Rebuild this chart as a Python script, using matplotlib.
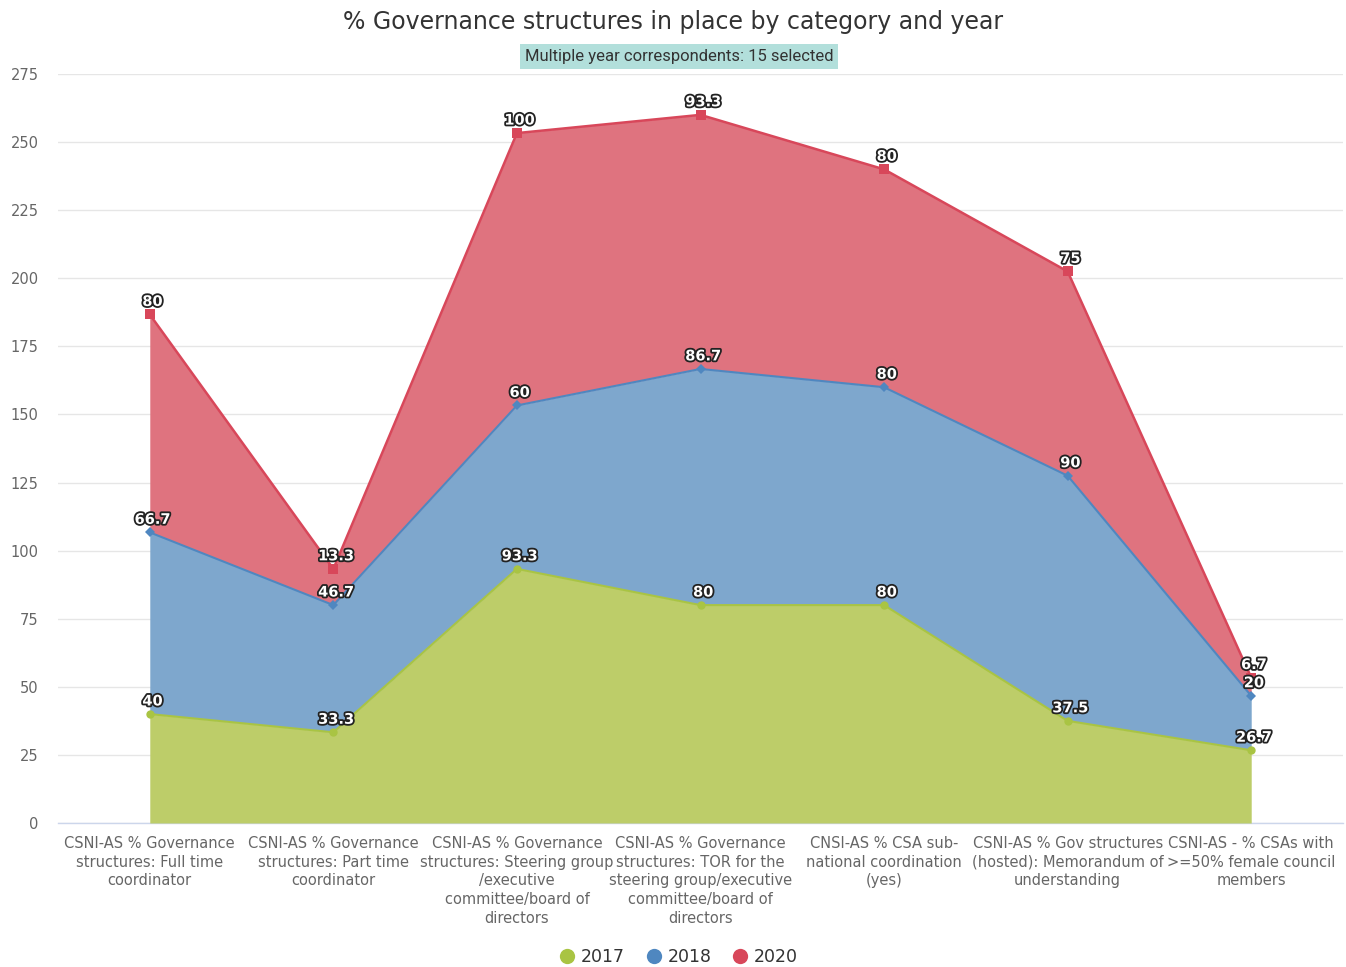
import numpy as np
import matplotlib
matplotlib.use("Agg")
import matplotlib.pyplot as plt
import matplotlib.patheffects as pe
from matplotlib.lines import Line2D

plt.rcParams["font.family"] = ["DejaVu Sans"]

categories = [
    "CSNI-AS % Governance\nstructures: Full time\ncoordinator",
    "CSNI-AS % Governance\nstructures: Part time\ncoordinator",
    "CSNI-AS % Governance\nstructures: Steering group\n/executive\ncommittee/board of\ndirectors",
    "CSNI-AS % Governance\nstructures: TOR for the\nsteering group/executive\ncommittee/board of\ndirectors",
    "CNSI-AS % CSA sub-\nnational coordination\n(yes)",
    "CSNI-AS % Gov structures\n(hosted): Memorandum of\nunderstanding",
    "CSNI-AS - % CSAs with\n>=50% female council\nmembers",
]
years = ["2017", "2018", "2020"]
values_2017 = [40, 33.3, 93.3, 80, 80, 37.5, 26.7]
values_2018 = [66.7, 46.7, 60, 86.7, 80, 90, 20]
values_2020 = [80, 13.3, 100, 93.3, 80, 75, 6.7]
y_ticks = [0, 25, 50, 75, 100, 125, 150, 175, 200, 225, 250, 275]

series = [values_2017, values_2018, values_2020]
line_colors = ["#a9c443", "#4f87c0", "#d8475a"]
fill_colors = ["#bdcd69", "#7ea7cd", "#df737f"]
marker_colors = ["#a9c443", "#4f87c0", "#d8475a"]
markers = ["o", "D", "s"]
marker_sizes = [6, 5, 7]
line_widths = [1.5, 1.5, 1.8]

fig = plt.figure(figsize=(13.46, 9.67), dpi=100)
ax = fig.add_axes([58 / 1346, 1 - 823 / 967, (1343 - 58) / 1346, (823 - 74) / 967])

x = np.arange(len(categories))
base = np.zeros(len(categories))
for vals, lc, fc, mc, mk, ms, lw in zip(series, line_colors, fill_colors,
                                        marker_colors, markers, marker_sizes, line_widths):
    top = base + np.array(vals)
    ax.fill_between(x, base, top, color=fc, linewidth=0, zorder=2)
    ax.plot(x, top, color=lc, linewidth=lw, zorder=3)
    ax.plot(x, top, linestyle="none", marker=mk, markersize=ms, color=mc,
            markeredgewidth=0, zorder=4)
    for xi, yi, v in zip(x, top, vals):
        label = f"{v:g}"
        ax.annotate(label, (xi, yi), xytext=(2, 4), textcoords="offset points",
                    ha="center", va="bottom", fontsize=10.5, fontweight="bold",
                    color="white", zorder=6,
                    path_effects=[pe.withStroke(linewidth=2.6, foreground="#222222")])
    base = top

ax.set_xlim(-0.5, len(categories) - 0.5)
ax.set_ylim(0, 275)
ax.set_yticks(y_ticks)
ax.set_yticklabels([str(t) for t in y_ticks], fontsize=10.5, color="#666666")
ax.set_xticks(x)
ax.set_xticklabels(categories, fontsize=10.5, color="#666666", linespacing=1.3)
ax.tick_params(axis="both", length=0)
ax.tick_params(axis="y", pad=14)
ax.tick_params(axis="x", pad=9.5)
ax.grid(axis="y", color="#e6e6e6", linewidth=1, zorder=0)
ax.set_axisbelow(True)
for side in ["left", "right", "top"]:
    ax.spines[side].set_visible(False)
ax.spines["bottom"].set_color("#ccd6eb")
ax.spines["bottom"].set_linewidth(1)
ax.spines["bottom"].set_zorder(1)

fig.text(0.5, 1 - 22 / 967, "% Governance structures in place by category and year",
         ha="center", va="center", fontsize=17, color="#333333")
fig.text(0.5045, 1 - 56 / 967, "Multiple year correspondents: 15 selected",
         ha="center", va="center", fontsize=12, color="#333333",
         family=["Roboto", "DejaVu Sans"],
         bbox=dict(boxstyle="square,pad=0.3", facecolor="#b2dfdb", edgecolor="none"))

handles = [Line2D([0], [0], marker="o", linestyle="none", markersize=11,
                  color=c, markeredgewidth=0) for c in marker_colors]
fig.legend(handles, years, loc="center", bbox_to_anchor=(0.505, 1 - 957 / 967),
           ncol=3, frameon=False, fontsize=12.5, handlelength=0.7,
           handletextpad=0.45, columnspacing=1.3, labelcolor="#333333")

fig.savefig("out.png", dpi=100)
